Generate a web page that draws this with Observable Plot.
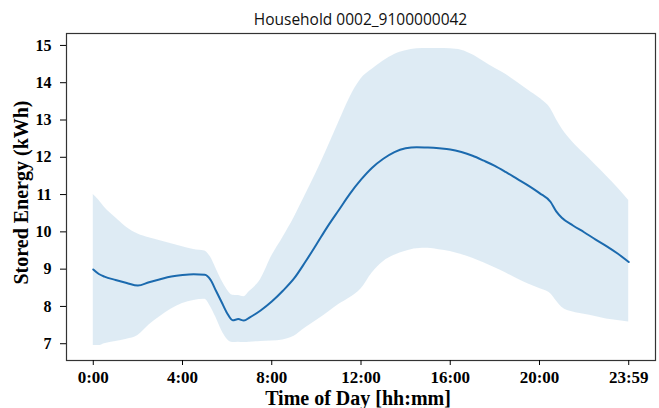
<!DOCTYPE html>
<html>
<head>
<meta charset="utf-8">
<script src="https://cdn.jsdelivr.net/npm/d3@7"></script>
<script src="https://cdn.jsdelivr.net/npm/@observablehq/plot@0.6"></script>
<style>
  html, body { margin: 0; padding: 0; background: #fff; }
</style>
</head>
<body>
<div id="chart"></div>
<script>
const titleText = "Household 0002_9100000042";
const xLabel = "Time of Day [hh:mm]";
const yLabel = "Stored Energy (kWh)";

const hours = [0, 0.25, 0.5, 1, 1.5, 2, 2.5, 3, 3.5, 4, 4.5, 5, 5.25, 5.5, 5.75, 6, 6.25, 6.5, 6.75, 7, 7.5, 8, 8.5, 9, 9.5, 10, 10.5, 11, 11.5, 12, 12.5, 13, 13.5, 14, 14.5, 15, 15.5, 16, 16.5, 17, 17.5, 18, 18.5, 19, 19.5, 20, 20.5, 20.75, 21, 21.5, 22, 22.5, 23, 23.5, 24];

const meanEnergy = [8.99, 8.87, 8.80, 8.71, 8.63, 8.56, 8.65, 8.73, 8.80, 8.84, 8.86, 8.85, 8.72, 8.42, 8.12, 7.82, 7.63, 7.66, 7.62, 7.70, 7.89, 8.13, 8.42, 8.75, 9.19, 9.66, 10.14, 10.58, 11.02, 11.40, 11.72, 11.96, 12.14, 12.24, 12.27, 12.26, 12.24, 12.21, 12.14, 12.04, 11.91, 11.77, 11.60, 11.42, 11.24, 11.04, 10.80, 10.55, 10.38, 10.17, 9.99, 9.80, 9.62, 9.42, 9.19];

const upperEnergy = [11.0, 10.85, 10.66, 10.38, 10.12, 9.94, 9.84, 9.76, 9.68, 9.60, 9.53, 9.49, 9.33, 9.02, 8.70, 8.45, 8.30, 8.29, 8.26, 8.40, 8.72, 9.35, 9.85, 10.38, 10.98, 11.59, 12.25, 12.93, 13.60, 14.10, 14.36, 14.58, 14.76, 14.86, 14.91, 14.92, 14.92, 14.91, 14.87, 14.75, 14.57, 14.39, 14.22, 14.01, 13.80, 13.59, 13.30, 13.02, 12.77, 12.40, 12.10, 11.80, 11.50, 11.18, 10.84];

const lowerEnergy = [6.95, 6.95, 7.0, 7.06, 7.12, 7.22, 7.50, 7.73, 7.93, 8.08, 8.16, 8.19, 8.0, 7.70, 7.36, 7.12, 7.03, 7.04, 7.03, 7.04, 7.06, 7.07, 7.10, 7.20, 7.42, 7.62, 7.83, 8.05, 8.23, 8.47, 8.90, 9.20, 9.37, 9.48, 9.55, 9.56, 9.52, 9.47, 9.39, 9.29, 9.17, 9.04, 8.90, 8.74, 8.60, 8.48, 8.34, 8.15, 7.98, 7.85, 7.79, 7.73, 7.66, 7.62, 7.58];

const xTicks = [0, 4, 8, 12, 16, 20, 24];
const xTickLabels = ["0:00", "4:00", "8:00", "12:00", "16:00", "20:00", "23:59"];
const yTicks = [7, 8, 9, 10, 11, 12, 13, 14, 15];

const data = hours.map((h, i) => ({h, m: meanEnergy[i], lo: lowerEnergy[i], hi: upperEnergy[i]}));

const serif = "'Liberation Serif', 'Times New Roman', serif";

const chart = Plot.plot({
  width: 659,
  height: 408,
  marginLeft: 66,
  marginRight: 4,
  marginTop: 33,
  marginBottom: 48,
  style: {fontFamily: serif, fontWeight: "bold", background: "#fff", color: "#000"},
  x: {domain: [-1.2, 25.2]},
  y: {domain: [6.55, 15.32]},
  marks: [
    Plot.areaY(data, {x: "h", y1: "lo", y2: "hi", fill: "#1f77b4", fillOpacity: 0.15, curve: "monotone-x"}),
    Plot.lineY(data, {x: "h", y: "m", stroke: "#1b6aae", strokeWidth: 2, curve: "monotone-x"}),
    Plot.frame({stroke: "#333", strokeWidth: 1.2}),
    Plot.axisY({ticks: yTicks, tickSize: 6, tickPadding: 9, fontSize: 16, label: null, tickFormat: d => String(d)}),
    Plot.axisX({ticks: xTicks, tickSize: 5, tickPadding: 5, fontSize: 17, label: null, tickFormat: (d, i) => xTickLabels[xTicks.indexOf(d)]}),
    Plot.text([titleText], {frameAnchor: "top", textAnchor: "middle", text: d => d, lineAnchor: "bottom", dy: -9, dx: -0.5, fontFamily: "'Open Sans', sans-serif", fontWeight: "normal", fontSize: 15.5, fill: "#111"}),
    Plot.text([xLabel], {frameAnchor: "bottom", textAnchor: "middle", text: d => d, lineAnchor: "bottom", dy: 44, dx: -3, fontFamily: serif, fontWeight: "bold", fontSize: 20, fill: "#000"}),
    Plot.text([yLabel], {frameAnchor: "left", textAnchor: "middle", text: d => d, rotate: -90, lineAnchor: "bottom", dx: -39, dy: -4.5, fontFamily: serif, fontWeight: "bold", fontSize: 20, fill: "#000"})
  ]
});
document.getElementById("chart").appendChild(chart);
</script>
</body>
</html>
